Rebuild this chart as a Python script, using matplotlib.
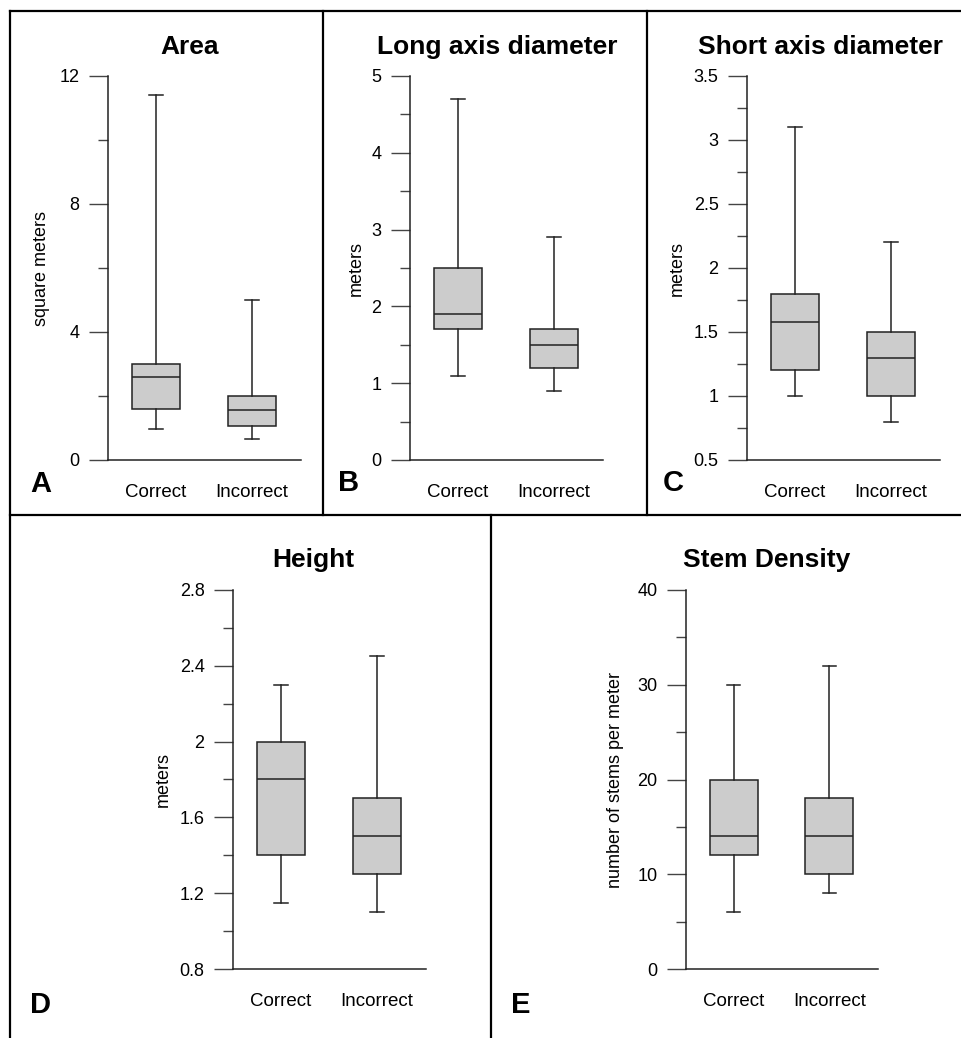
import matplotlib.pyplot as plt
from matplotlib.lines import Line2D
from matplotlib.ticker import AutoMinorLocator, FormatStrFormatter

plt.rcParams['font.family'] = ['Liberation Sans', 'DejaVu Sans']

groups = ['Correct', 'Incorrect']

# five-number summaries: low whisker, q1, median, q3, high whisker
area_correct = [0.97, 1.6, 2.6, 3.0, 11.4]
area_incorrect = [0.65, 1.05, 1.55, 2.0, 5.0]
long_correct = [1.1, 1.7, 1.9, 2.5, 4.7]
long_incorrect = [0.9, 1.2, 1.5, 1.7, 2.9]
short_correct = [1.0, 1.2, 1.575, 1.8, 3.1]
short_incorrect = [0.8, 1.0, 1.3, 1.5, 2.2]
height_correct = [1.15, 1.4, 1.8, 2.0, 2.3]
height_incorrect = [1.1, 1.3, 1.5, 1.7, 2.45]
stem_correct = [6, 12, 14, 20, 30]
stem_incorrect = [8, 10, 14, 18, 32]

titles = ['Area', 'Long axis diameter', 'Short axis diameter', 'Height', 'Stem Density']
ylabels = ['square meters', 'meters', 'meters', 'meters', 'number of stems per meter']
letters = ['A', 'B', 'C', 'D', 'E']
yticks = [[0, 4, 8, 12],
          [0, 1, 2, 3, 4, 5],
          [0.5, 1, 1.5, 2, 2.5, 3, 3.5],
          [0.8, 1.2, 1.6, 2, 2.4, 2.8],
          [0, 10, 20, 30, 40]]
summaries = [(area_correct, area_incorrect),
             (long_correct, long_incorrect),
             (short_correct, short_incorrect),
             (height_correct, height_incorrect),
             (stem_correct, stem_incorrect)]

W, H = 961, 1038
fig = plt.figure(figsize=(W / 100, H / 100), dpi=100)

# axes boxes in pixels: left, right, top, bottom
boxes = [(108, 301, 76, 460), (410, 603, 76, 460), (747, 940, 76, 460),
         (233, 426, 590, 969), (686, 878, 590, 969)]
title_pos = [(190, 47), (497, 47), (820, 47), (313, 560), (767, 560)]
label_x = [50, 365, 686, 172, 624]
letter_pos = [(30, 492), (338, 491), (663, 491), (30, 1013), (511, 1013)]


def px(x, y):
    return x / W, 1 - y / H


for i in range(5):
    l, r, t, b = boxes[i]
    ax = fig.add_axes([l / W, 1 - b / H, (r - l) / W, (b - t) / H])
    stats = []
    for name, s in zip(groups, summaries[i]):
        stats.append(dict(label=name, whislo=s[0], q1=s[1], med=s[2], q3=s[3], whishi=s[4], fliers=[]))
    ax.bxp(stats, positions=[1, 2], widths=0.5, capwidths=0.14, patch_artist=True,
           showfliers=False,
           boxprops=dict(facecolor='#cccccc', edgecolor='#222222', linewidth=1.1),
           medianprops=dict(color='#222222', linewidth=1.1),
           whiskerprops=dict(color='#222222', linewidth=1.1),
           capprops=dict(color='#222222', linewidth=1.1))
    ax.set_xlim(0.5, 2.51)
    ax.set_ylim(yticks[i][0], yticks[i][-1])
    ax.set_yticks(yticks[i])
    ax.yaxis.set_major_formatter(FormatStrFormatter('%g'))
    ax.yaxis.set_minor_locator(AutoMinorLocator(2))
    ax.tick_params(axis='y', which='major', length=13.5, width=1, color='#444444',
                   pad=7, labelsize=13)
    ax.tick_params(axis='y', which='minor', length=7, width=1, color='#444444')
    ax.tick_params(axis='x', length=0, pad=17, labelsize=13.5)
    for side in ['top', 'right']:
        ax.spines[side].set_visible(False)
    for side in ['left', 'bottom']:
        ax.spines[side].set_linewidth(1.1)
        ax.spines[side].set_color('#222222')
    ax.set_ylabel(ylabels[i], fontsize=13)
    ax.yaxis.set_label_coords((label_x[i] - l) / (r - l), 0.5)
    tx, ty = px(*title_pos[i])
    fig.text(tx, ty, titles[i], ha='center', va='center', fontsize=19, fontweight='bold')
    lx, ly = px(*letter_pos[i])
    fig.text(lx, ly, letters[i], ha='left', va='baseline', fontsize=21, fontweight='bold')

# panel frame lines
frame = [((10, 11), (961, 11)), ((10, 11), (10, 1038)), ((10, 515), (961, 515)),
         ((323, 11), (323, 515)), ((647, 11), (647, 515)), ((491, 515), (491, 1038))]
for p0, p1 in frame:
    x0, y0 = px(*p0)
    x1, y1 = px(*p1)
    fig.add_artist(Line2D([x0, x1], [y0, y1], color='black', linewidth=1.6))

fig.savefig('out.png', dpi=100)
